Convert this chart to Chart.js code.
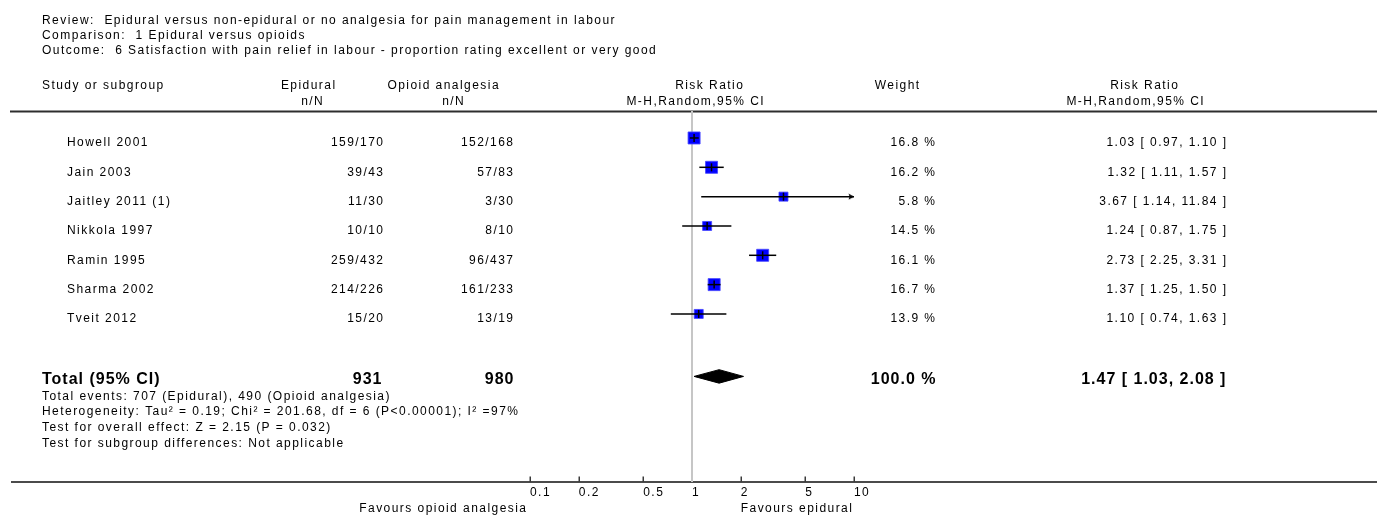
<!DOCTYPE html>
<html>
<head>
<meta charset="utf-8">
<title>Epidural versus opioids - satisfaction with pain relief</title>
<script src="https://cdn.jsdelivr.net/npm/chart.js@4.4.1/dist/chart.umd.min.js"></script>
<style>
  html, body { margin: 0; padding: 0; background: #ffffff; }
  canvas { display: block; }
</style>
</head>
<body>
<canvas id="forest" width="1377" height="515"></canvas>
<script>
// ---- study data ----
const studies      = ['Howell 2001', 'Jain 2003', 'Jaitley 2011 (1)', 'Nikkola 1997', 'Ramin 1995', 'Sharma 2002', 'Tveit 2012'];
const epiEvents    = [159, 39, 11, 10, 259, 214, 15];
const epiTotals    = [170, 43, 30, 10, 432, 226, 20];
const opiEvents    = [152, 57, 3, 8, 96, 161, 13];
const opiTotals    = [168, 83, 30, 10, 437, 233, 19];
const riskRatio    = [1.03, 1.32, 3.67, 1.24, 2.73, 1.37, 1.10];
const ciLower      = [0.97, 1.11, 1.14, 0.87, 2.25, 1.25, 0.74];
const ciUpper      = [1.10, 1.57, 11.84, 1.75, 3.31, 1.50, 1.63];
const weights      = [16.8, 16.2, 5.8, 14.5, 16.1, 16.7, 13.9];

// ---- pooled result ----
const totalN       = [931, 980];          // Epidural, Opioid analgesia
const totalEvents  = [707, 490];
const pooled       = [1.47, 1.03, 2.08];  // RR, lower, upper
const pooledWeight = 100.0;

const xTicks       = [0.1, 0.2, 0.5, 1, 2, 5, 10];

const headerLines = [
  'Review:  Epidural versus non-epidural or no analgesia for pain management in labour',
  'Comparison:  1 Epidural versus opioids',
  'Outcome:  6 Satisfaction with pain relief in labour - proportion rating excellent or very good'
];
const footLines = [
  'Total events: ' + totalEvents[0] + ' (Epidural), ' + totalEvents[1] + ' (Opioid analgesia)',
  'Heterogeneity: Tau\u00B2 = 0.19; Chi\u00B2 = 201.68, df = 6 (P<0.00001); I\u00B2 =97%',
  'Test for overall effect: Z = 2.15 (P = 0.032)',
  'Test for subgroup differences: Not applicable'
];

// ---- layout ----
const X_MIN = 0.1, X_MAX = 10;
const Y_MIN = -0.92, Y_MAX = 11.73;   // row index range of the plot band
const TOTAL_ROW = 8.13;
const DIAMOND_HALF = 0.23;            // half height of the pooled diamond, in rows
const FONT = '"Liberation Sans", Arial, Helvetica, sans-serif';
const SP = 1.45;                      // letter spacing, px
const NORMAL = '12px ' + FONT;
const BOLD = 'bold 16px ' + FONT;

const fmt2 = v => v.toFixed(2);
const ciText = (r, l, u) => fmt2(r) + ' [ ' + fmt2(l) + ', ' + fmt2(u) + ' ]';

// arrowhead sprite: the tip sits at the sprite centre so it lands on the axis limit
const arrowHead = document.createElement('canvas');
arrowHead.width = 12; arrowHead.height = 7;
(() => {
  const c = arrowHead.getContext('2d');
  c.fillStyle = '#000';
  c.beginPath();
  c.moveTo(0.5, 0.6);
  c.lineTo(6.2, 3.5);
  c.lineTo(0.5, 6.4);
  c.lineTo(1.6, 3.5);
  c.closePath();
  c.fill();
})();

// ---- datasets ----
const crossData  = riskRatio.map((r, i) => ({ x: r, y: i }));
const squareData = riskRatio.map((r, i) => ({ x: r, y: i }));
const squareSide = weights.map(w => (w >= 15 ? 13 : 10));
const ciSets = riskRatio.map((r, i) => ({
  type: 'scatter', showLine: true,
  data: [{ x: ciLower[i], y: i }, { x: ciUpper[i], y: i }],
  borderColor: '#000', borderWidth: 1.5, pointRadius: 0
}));
const arrowData = [];
ciUpper.forEach((u, i) => { if (u > X_MAX) arrowData.push({ x: X_MAX, y: i }); });

const datasets = [
  { // point estimate tick
    data: crossData, pointStyle: 'line', rotation: 90, pointRadius: 4,
    borderColor: '#000', borderWidth: 1.5, showLine: false
  },
  ...ciSets,
  { // arrow for intervals beyond the axis
    data: arrowData, pointStyle: arrowHead, pointRadius: 6, showLine: false, clip: false
  },
  { // study boxes
    data: squareData, pointStyle: 'rect',
    pointRadius: squareSide.map(s => (s - 1) / Math.SQRT2),
    backgroundColor: '#0000ff', borderColor: 'rgba(70,70,255,0.85)', borderWidth: 1, showLine: false
  },
  { // pooled diamond
    data: [
      { x: pooled[1], y: TOTAL_ROW },
      { x: pooled[0], y: TOTAL_ROW - DIAMOND_HALF },
      { x: pooled[2], y: TOTAL_ROW },
      { x: pooled[0], y: TOTAL_ROW + DIAMOND_HALF },
      { x: pooled[1], y: TOTAL_ROW }
    ],
    showLine: true, fill: 'shape', backgroundColor: '#000', borderColor: '#000',
    borderWidth: 1, pointRadius: 0, tension: 0
  },
  { // line of no effect
    data: [{ x: 1, y: Y_MIN }, { x: 1, y: Y_MAX }],
    showLine: true, borderColor: '#c6c6c6', borderWidth: 2, pointRadius: 0, clip: false
  }
];

function put(ctx, s, x, y, align, font) {
  ctx.font = font;
  ctx.textAlign = align;
  const dx = align === 'right' ? SP : (align === 'center' ? SP / 2 : 0);
  ctx.fillText(s, x + dx, y);
}

const forestText = {
  id: 'forestText',
  beforeDraw(chart) {
    const ctx = chart.ctx;
    ctx.save();
    ctx.fillStyle = '#ffffff';
    ctx.fillRect(0, 0, chart.width, chart.height);
    ctx.restore();
    ctx.letterSpacing = SP + 'px';
  },
  beforeDatasetsDraw(chart) {
    const ctx = chart.ctx;
    const area = chart.chartArea;
    const xs = chart.scales.x;
    ctx.save();
    // header rule
    ctx.strokeStyle = '#2e2e2e';
    ctx.lineWidth = 2;
    ctx.beginPath();
    ctx.moveTo(10, area.top + 0.5);
    ctx.lineTo(chart.width, area.top + 0.5);
    ctx.stroke();
    // axis rule
    ctx.strokeStyle = '#4b4b4b';
    ctx.beginPath();
    ctx.moveTo(11, area.bottom);
    ctx.lineTo(chart.width, area.bottom);
    ctx.stroke();
    // tick marks
    ctx.lineWidth = 1.5;
    ctx.strokeStyle = '#3a3a3a';
    xTicks.forEach(v => {
      const px = Math.round(xs.getPixelForValue(v)) + 0.25;
      ctx.beginPath();
      ctx.moveTo(px, area.bottom - 5.5);
      ctx.lineTo(px, area.bottom);
      ctx.stroke();
    });
    ctx.restore();
  },
  afterDraw(chart) {
    const ctx = chart.ctx;
    const ys = chart.scales.y;
    const xs = chart.scales.x;
    ctx.save();
    ctx.letterSpacing = SP + 'px';
    ctx.fillStyle = '#000';
    ctx.textBaseline = 'alphabetic';

    // title block
    headerLines.forEach((s, i) => put(ctx, s, 42, 24 + i * 15, 'left', NORMAL));

    // column headings
    put(ctx, 'Study or subgroup', 42, 88.5, 'left', NORMAL);
    put(ctx, 'Epidural', 308, 88.5, 'center', NORMAL);
    put(ctx, 'n/N', 312, 105, 'center', NORMAL);
    put(ctx, 'Opioid analgesia', 443, 88.5, 'center', NORMAL);
    put(ctx, 'n/N', 453, 105, 'center', NORMAL);
    put(ctx, 'Risk Ratio', 709, 88.5, 'center', NORMAL);
    put(ctx, 'M-H,Random,95% CI', 695, 105, 'center', NORMAL);
    put(ctx, 'Weight', 897, 88.5, 'center', NORMAL);
    put(ctx, 'Risk Ratio', 1144, 88.5, 'center', NORMAL);
    put(ctx, 'M-H,Random,95% CI', 1135, 105, 'center', NORMAL);

    // study rows
    studies.forEach((name, i) => {
      const y = ys.getPixelForValue(i) + 8.5;
      put(ctx, name, 67, y, 'left', NORMAL);
      put(ctx, epiEvents[i] + '/' + epiTotals[i], 383, y, 'right', NORMAL);
      put(ctx, opiEvents[i] + '/' + opiTotals[i], 513, y, 'right', NORMAL);
      put(ctx, weights[i].toFixed(1) + ' %', 935, y, 'right', NORMAL);
      put(ctx, ciText(riskRatio[i], ciLower[i], ciUpper[i]), 1226, y, 'right', NORMAL);
    });

    // pooled row
    const ty = ys.getPixelForValue(TOTAL_ROW);
    ctx.letterSpacing = '1px';
    put(ctx, 'Total (95% CI)', 42, ty + 7.3, 'left', BOLD);
    put(ctx, String(totalN[0]), 381, ty + 7.3, 'right', BOLD);
    put(ctx, String(totalN[1]), 513, ty + 7.3, 'right', BOLD);
    put(ctx, pooledWeight.toFixed(1) + ' %', 935, ty + 7.3, 'right', BOLD);
    put(ctx, ciText(pooled[0], pooled[1], pooled[2]), 1225, ty + 7.3, 'right', BOLD);
    ctx.letterSpacing = SP + 'px';

    // summary statistics
    footLines.forEach((s, i) => put(ctx, s, 42, ty + 23.3 + i * 15.7, 'left', NORMAL));

    // direction labels
    put(ctx, 'Favours opioid analgesia', xs.getPixelForValue(0.1) - 4, 512, 'right', NORMAL);
    put(ctx, 'Favours epidural', xs.getPixelForValue(2), 512, 'left', NORMAL);
    ctx.restore();
  }
};

new Chart(document.getElementById('forest'), {
  type: 'scatter',
  data: { datasets },
  options: {
    responsive: false,
    animation: false,
    devicePixelRatio: 1,
    events: [],
    layout: { padding: { left: 530, right: 523, top: 111, bottom: 0 } },
    plugins: { legend: { display: false }, tooltip: { enabled: false } },
    scales: {
      x: {
        type: 'logarithmic', min: X_MIN, max: X_MAX, position: 'bottom',
        afterBuildTicks: s => { s.ticks = xTicks.map(v => ({ value: v })); },
        afterFit: s => { s.height = 33; },
        grid: { display: false, drawTicks: false },
        border: { display: false },
        ticks: {
          align: 'start', padding: 3, color: '#000', autoSkip: false, maxRotation: 0,
          font: { family: FONT, size: 12 },
          callback: v => String(v)
        }
      },
      y: { type: 'linear', min: Y_MIN, max: Y_MAX, reverse: true, display: false }
    }
  },
  plugins: [forestText]
});
</script>
</body>
</html>
